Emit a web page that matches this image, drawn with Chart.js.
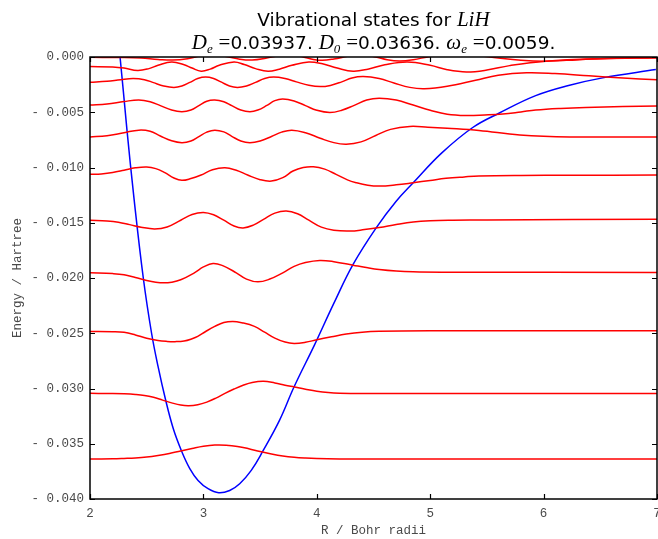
<!DOCTYPE html>
<html>
<head>
<meta charset="utf-8">
<script src="https://cdn.jsdelivr.net/npm/chart.js@4/dist/chart.umd.min.js"></script>
<style>
  html, body { margin: 0; padding: 0; background: #ffffff; }
  #wrap { position: relative; width: 658px; height: 539px; }
  #title { position: absolute; left: 90px; top: 8px; width: 567px; text-align: center;
           font-family: "DejaVu Sans", sans-serif; font-size: 18.5px; line-height: 22px; color: #000; }
  .m { font-family: "Liberation Serif", "DejaVu Serif", serif; font-style: italic; font-size: 21px; }
  .eq { font-family: "Liberation Serif", "DejaVu Serif", serif; font-size: 21px; }
  sub { font-size: 13px; vertical-align: -4px; line-height: 0; }
</style>
</head>
<body>
<div id="wrap">
  <canvas id="chart" width="658" height="539"></canvas>
  <div id="title">Vibrational states for <span class="m">LiH</span><br><span class="m">D<sub>e</sub></span> <span class="eq">=</span>0.03937. <span class="m">D<sub>0</sub></span> <span class="eq">=</span>0.03636. <span class="m">ω<sub>e</sub></span> <span class="eq">=</span>0.0059.</div>
</div>
<script>
// ---- axis setup ----
const xLimits = [2, 7];
const yLimits = [-0.040, 0.000];
const xTickValues = [2, 3, 4, 5, 6, 7];
const yTickValues = [0.000, -0.005, -0.010, -0.015, -0.020, -0.025, -0.030, -0.035, -0.040];
const xAxisLabel = "R / Bohr radii";
const yAxisLabel = "Energy / Hartree";

// ---- Morse potential ----
const potentialR = [2.20, 2.265, 2.325, 2.388, 2.47, 2.543, 2.60, 2.666, 2.734, 2.807, 2.88, 2.953, 3.041, 3.135, 3.232, 3.32, 3.422, 3.525, 3.672, 3.80, 3.98, 4.15, 4.32, 4.525, 4.70, 4.85, 5.10, 5.375, 5.61, 5.93, 6.22, 6.52, 6.99];
const potentialE = [0.0060, 0.0000, -0.0065, -0.0128, -0.0200, -0.0250, -0.0280, -0.0310, -0.03362, -0.03565, -0.03725, -0.03832, -0.03907, -0.03944, -0.03923, -0.03862, -0.03741, -0.03565, -0.03286, -0.02984, -0.02605, -0.0223, -0.01877, -0.01544, -0.01305, -0.01138, -0.0087, -0.00638, -0.00507, -0.0035, -0.00258, -0.00189, -0.00114];

// ---- vibrational wavefunctions, offset by their energies ----
const state0R = [2.0, 2.2, 2.3, 2.4, 2.5, 2.6, 2.7, 2.8, 2.9, 3.0, 3.1, 3.2, 3.3, 3.4, 3.5, 3.6, 3.7, 3.8, 3.9, 4.0, 4.2, 4.5, 7.0];
const state0E = [-0.03638, -0.03636, -0.03633, -0.03629, -0.03621, -0.03607, -0.03589, -0.03565, -0.03543, -0.03523, -0.03512, -0.03513, -0.03524, -0.03545, -0.03571, -0.03593, -0.03611, -0.03623, -0.03630, -0.03634, -0.03637, -0.03638, -0.03638];

const state1R = [2.0, 2.2, 2.3, 2.4, 2.48, 2.56, 2.64, 2.72, 2.8, 2.87, 2.95, 3.03, 3.11, 3.19, 3.27, 3.35, 3.43, 3.53, 3.63, 3.72, 3.80, 3.9, 4.0, 4.1, 4.2, 4.4, 7.0];
const state1E = [-0.03044, -0.03045, -0.03048, -0.03054, -0.03063, -0.03080, -0.03105, -0.03130, -0.03150, -0.03156, -0.03147, -0.03123, -0.03087, -0.03044, -0.03005, -0.02971, -0.02946, -0.02935, -0.02950, -0.02970, -0.02986, -0.03006, -0.03024, -0.03036, -0.03042, -0.03045, -0.03046];

const state2R = [2.0, 2.2, 2.3, 2.4, 2.5, 2.6, 2.68, 2.75, 2.83, 2.9, 2.95, 3.02, 3.1, 3.18, 3.26, 3.34, 3.45, 3.54, 3.63, 3.72, 3.80, 3.9, 4.0, 4.13, 4.26, 4.4, 4.55, 5.0, 7.0];
const state2E = [-0.02484, -0.02486, -0.02492, -0.02515, -0.02545, -0.02566, -0.02574, -0.02576, -0.02570, -0.02550, -0.02529, -0.02484, -0.02438, -0.02403, -0.02393, -0.02405, -0.02438, -0.02490, -0.02544, -0.02580, -0.02592, -0.02582, -0.02559, -0.02532, -0.02507, -0.02490, -0.02482, -0.02478, -0.02478];

const state3R = [2.0, 2.2, 2.3, 2.4, 2.5, 2.58, 2.65, 2.72, 2.8, 2.92, 3.0, 3.085, 3.17, 3.29, 3.38, 3.48, 3.58, 3.70, 3.8, 3.9, 4.026, 4.15, 4.32, 4.45, 4.55, 4.7, 4.85, 5.1, 7.0];
const state3E = [-0.01953, -0.01960, -0.01970, -0.01995, -0.02022, -0.02038, -0.02044, -0.02038, -0.02016, -0.01953, -0.01900, -0.01868, -0.01888, -0.01953, -0.02010, -0.02035, -0.02012, -0.01953, -0.01895, -0.01860, -0.01841, -0.01852, -0.01884, -0.01908, -0.01923, -0.01937, -0.01944, -0.01947, -0.01950];

const state4R = [2.0, 2.15, 2.25, 2.35, 2.45, 2.57, 2.68, 2.80, 2.9, 3.0, 3.09, 3.18, 3.27, 3.35, 3.44, 3.53, 3.63, 3.73, 3.83, 3.93, 4.04, 4.15, 4.29, 4.42, 4.55, 4.7, 4.85, 5.0, 5.2, 5.5, 7.0];
const state4E = [-0.01477, -0.01484, -0.01495, -0.01517, -0.01540, -0.01556, -0.01538, -0.01477, -0.01425, -0.01407, -0.01428, -0.01477, -0.01530, -0.01547, -0.01522, -0.01470, -0.01413, -0.01393, -0.01418, -0.01477, -0.01540, -0.01568, -0.01575, -0.01562, -0.01544, -0.01516, -0.01493, -0.01482, -0.01477, -0.01474, -0.01468];

const state5R = [2.0, 2.1, 2.2, 2.3, 2.4, 2.5, 2.58, 2.66, 2.74, 2.81, 2.89, 2.98, 3.08, 3.19, 3.29, 3.39, 3.5, 3.60, 3.70, 3.79, 3.88, 3.97, 4.07, 4.17, 4.27, 4.35, 4.45, 4.55, 4.7, 4.85, 5.0, 5.14, 5.3, 5.43, 5.8, 6.23, 7.0];
const state5E = [-0.01062, -0.01058, -0.01046, -0.01025, -0.01003, -0.00995, -0.01010, -0.01047, -0.01095, -0.01116, -0.01100, -0.01068, -0.01020, -0.01002, -0.01025, -0.01068, -0.01110, -0.01123, -0.01092, -0.01032, -0.01000, -0.00993, -0.01015, -0.01062, -0.01112, -0.01138, -0.01160, -0.01168, -0.01157, -0.01138, -0.01117, -0.01098, -0.01085, -0.01077, -0.01072, -0.01071, -0.01068];

const state6R = [2.0, 2.15, 2.3, 2.43, 2.53, 2.62, 2.72, 2.81, 2.89, 2.96, 3.03, 3.10, 3.18, 3.25, 3.33, 3.41, 3.5, 3.6, 3.69, 3.78, 3.9, 4.03, 4.15, 4.26, 4.39, 4.52, 4.65, 4.82, 4.98, 5.15, 5.43, 5.79, 6.23, 7.0];
const state6E = [-0.00723, -0.00712, -0.00685, -0.00662, -0.00672, -0.00715, -0.00758, -0.00775, -0.00760, -0.00720, -0.00680, -0.00662, -0.00678, -0.00718, -0.00760, -0.00775, -0.00760, -0.00720, -0.00680, -0.00662, -0.00685, -0.00735, -0.00775, -0.00789, -0.00768, -0.00710, -0.00655, -0.00628, -0.00635, -0.00645, -0.00665, -0.00705, -0.00723, -0.00723];

const state7R = [2.0, 2.15, 2.3, 2.43, 2.53, 2.62, 2.72, 2.81, 2.89, 2.96, 3.03, 3.10, 3.18, 3.25, 3.33, 3.41, 3.48, 3.56, 3.63, 3.70, 3.8, 3.90, 4.0, 4.115, 4.22, 4.33, 4.44, 4.55, 4.7, 4.85, 5.0, 5.15, 5.32, 5.48, 5.64, 5.8, 5.93, 6.15, 6.37, 6.7, 7.0];
const state7E = [-0.00435, -0.00425, -0.00403, -0.00389, -0.00405, -0.00440, -0.00480, -0.00495, -0.00480, -0.00440, -0.00400, -0.00389, -0.00405, -0.00440, -0.00480, -0.00495, -0.00480, -0.00438, -0.00395, -0.00380, -0.00398, -0.00440, -0.00482, -0.00502, -0.00482, -0.00438, -0.00390, -0.00374, -0.00390, -0.00435, -0.00482, -0.00518, -0.00530, -0.00525, -0.00516, -0.00497, -0.00480, -0.00465, -0.00456, -0.00449, -0.00444];

const state8R = [2.0, 2.15, 2.27, 2.38, 2.48, 2.56, 2.65, 2.74, 2.81, 2.88, 2.95, 3.02, 3.09, 3.16, 3.23, 3.30, 3.38, 3.46, 3.54, 3.62, 3.72, 3.82, 3.93, 4.03, 4.12, 4.22, 4.31, 4.41, 4.55, 4.68, 4.82, 4.95, 5.15, 5.4, 5.6, 5.85, 6.1, 6.4, 6.7, 7.0];
const state8E = [-0.00229, -0.00220, -0.00205, -0.00195, -0.00205, -0.00232, -0.00262, -0.00275, -0.00262, -0.00230, -0.00195, -0.00182, -0.00195, -0.00228, -0.00262, -0.00275, -0.00262, -0.00230, -0.00195, -0.00182, -0.00195, -0.00225, -0.00256, -0.00268, -0.00257, -0.00225, -0.00190, -0.00177, -0.00195, -0.00235, -0.00275, -0.00287, -0.00265, -0.00210, -0.00165, -0.00143, -0.00150, -0.00170, -0.00190, -0.00207];

const state9R = [2.0, 2.2, 2.3, 2.42, 2.52, 2.6, 2.72, 2.83, 2.9, 2.98, 3.06, 3.14, 3.27, 3.36, 3.46, 3.57, 3.67, 3.78, 3.93, 4.05, 4.18, 4.32, 4.45, 4.6, 4.8, 5.0, 5.15, 5.32, 5.5, 5.7, 6.02, 6.5, 7.0];
const state9E = [-0.00087, -0.00090, -0.00100, -0.00122, -0.00105, -0.00075, -0.00045, -0.00070, -0.00100, -0.00128, -0.00110, -0.00075, -0.00045, -0.00068, -0.00105, -0.00130, -0.00110, -0.00075, -0.00045, -0.00062, -0.00100, -0.00128, -0.00110, -0.00070, -0.00045, -0.00075, -0.00115, -0.00135, -0.00118, -0.00078, -0.00038, -0.00015, -0.00007];

const state10R = [2.0, 2.3, 2.45, 2.6, 2.73, 2.86, 3.0, 3.08, 3.2, 3.32, 3.43, 3.55, 3.68, 3.76, 3.88, 3.96, 4.05, 4.15, 4.3, 4.4, 4.52, 4.62, 4.73, 4.85, 5.0, 5.2, 5.4, 5.6, 5.8, 6.0, 6.2, 6.5, 7.0];
const state10E = [-0.00003, -0.00005, -0.00010, -0.00022, -0.00028, -0.00015, 0.00015, 0.00020, 0.00005, -0.00020, -0.00028, -0.00012, 0.00015, 0.00020, 0.00000, -0.00020, -0.00030, -0.00018, 0.00012, 0.00020, 0.00000, -0.00025, -0.00036, -0.00025, 0.00005, 0.00025, 0.00015, -0.00010, -0.00030, -0.00038, -0.00030, -0.00016, -0.00007];

const stateR = [state0R, state1R, state2R, state3R, state4R, state5R, state6R, state7R, state8R, state9R, state10R];
const stateE = [state0E, state1E, state2E, state3E, state4E, state5E, state6E, state7E, state8E, state9E, state10E];

const stateColor = 'rgb(255,0,0)';
const potentialColor = 'rgb(0,0,255)';
const tickFont = { family: '"Liberation Mono", "DejaVu Sans Mono", monospace', size: 12.5 };
const tickColor = '#4a4a4a';

function toPoints(xs, ys) { return xs.map((x, i) => ({ x: x, y: ys[i] })); }

const datasets = [];
stateR.forEach((xs, i) => {
  datasets.push({
    label: 'v=' + i,
    data: toPoints(xs, stateE[i]),
    borderColor: stateColor,
    borderWidth: 1.5,
    pointRadius: 0,
    showLine: true,
    fill: false,
    tension: 0.4
  });
});
datasets.push({
  label: 'V(R)',
  data: toPoints(potentialR, potentialE),
  borderColor: potentialColor,
  borderWidth: 1.5,
  pointRadius: 0,
  showLine: true,
  fill: false,
  tension: 0.4
});

// frame and inward ticks on all four sides, placed with the chart's own scales
const framePlugin = {
  id: 'frame',
  afterDatasetsDraw(chart) {
    const { ctx, chartArea: a, scales: { x, y } } = chart;
    ctx.save();
    ctx.strokeStyle = '#000';
    ctx.lineWidth = 1.5;
    ctx.strokeRect(a.left, a.top, a.right - a.left, a.bottom - a.top);
    ctx.lineWidth = 1.2;
    const L = 5;
    ctx.beginPath();
    xTickValues.forEach(v => {
      const px = Math.round(x.getPixelForValue(v)) + 0.5;
      ctx.moveTo(px, a.bottom); ctx.lineTo(px, a.bottom - L);
      ctx.moveTo(px, a.top); ctx.lineTo(px, a.top + L);
    });
    yTickValues.forEach(v => {
      const py = Math.round(y.getPixelForValue(v)) + 0.5;
      ctx.moveTo(a.left, py); ctx.lineTo(a.left + L, py);
      ctx.moveTo(a.right, py); ctx.lineTo(a.right - L, py);
    });
    ctx.stroke();
    ctx.restore();
  }
};

new Chart(document.getElementById('chart'), {
  type: 'scatter',
  data: { datasets: datasets },
  options: {
    responsive: false,
    animation: false,
    events: [],
    layout: { padding: { top: 57, right: 1, left: 0, bottom: 0 } },
    plugins: { legend: { display: false }, tooltip: { enabled: false }, title: { display: false } },
    scales: {
      x: {
        type: 'linear',
        min: xLimits[0], max: xLimits[1],
        afterBuildTicks(scale) { scale.ticks = xTickValues.map(v => ({ value: v })); },
        afterFit(scale) { scale.height = 40; scale.paddingLeft = 0; scale.paddingRight = 0; },
        grid: { display: false, drawTicks: false },
        border: { display: false },
        ticks: { font: tickFont, color: tickColor, padding: 7, maxRotation: 0, autoSkip: false,
                 callback: v => String(v) },
        title: { display: true, text: xAxisLabel, font: tickFont, color: tickColor, padding: { top: 0, bottom: 1 } }
      },
      y: {
        type: 'linear',
        min: yLimits[0], max: yLimits[1],
        afterBuildTicks(scale) { scale.ticks = yTickValues.map(v => ({ value: v })); },
        afterFit(scale) { scale.width = 90; scale.paddingTop = 0; scale.paddingBottom = 0; },
        grid: { display: false, drawTicks: false },
        border: { display: false },
        ticks: { font: tickFont, color: tickColor, padding: 6, autoSkip: false,
                 callback: v => (v < -1e-9 ? '- ' : '') + Math.abs(v).toFixed(3) },
        title: { display: true, text: yAxisLabel, font: tickFont, color: tickColor, padding: { top: 10, bottom: 0 } }
      }
    }
  },
  plugins: [framePlugin]
});
</script>
</body>
</html>
